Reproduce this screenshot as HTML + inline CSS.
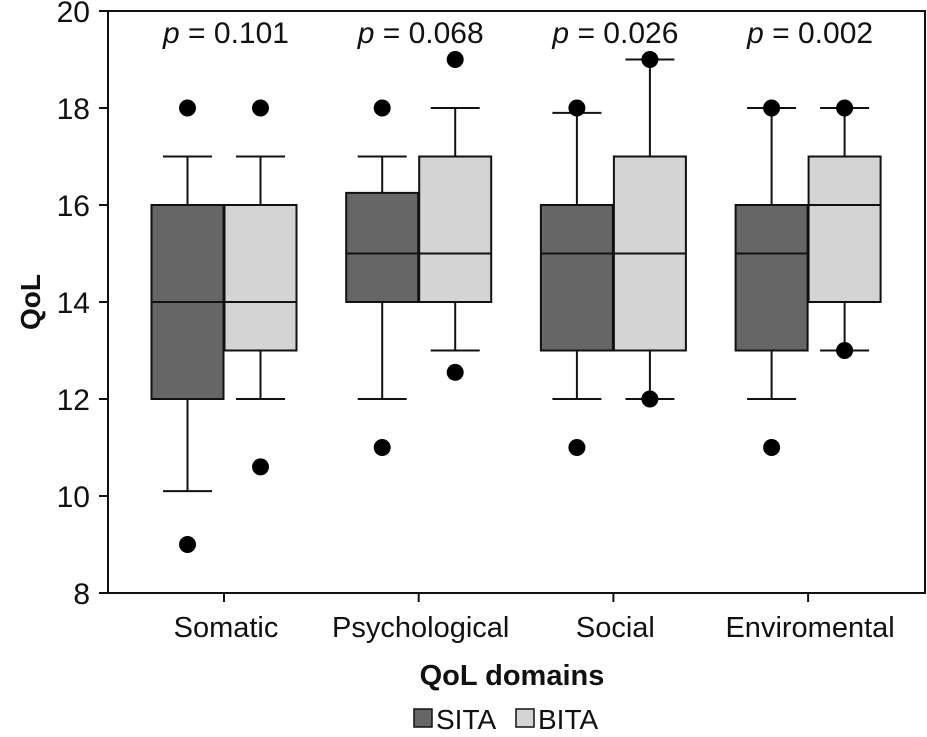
<!DOCTYPE html>
<html><head><meta charset="utf-8"><style>
body{margin:0;background:#fff}
svg text{font-family:"Liberation Sans","DejaVu Sans",sans-serif;fill:#111}
</style></head><body>
<svg id="chart" width="927" height="732" viewBox="0 0 927 732" xmlns="http://www.w3.org/2000/svg"></svg>
<script>
const categories=["Somatic","Psychological","Social","Enviromental"];
const pvalues=["0.101","0.068","0.026","0.002"];
const sitaStats=[[10.1,12,14,16,17],[12,14,15,16.25,17],[12,13,15,16,17.9],[12,13,15,16,18]];
const bitaStats=[[12,13,14,16,17],[13,14,15,17,18],[12,13,15,17,19],[13,14,16,17,18]];
const sitaOutliers=[[18,9],[18,11],[18,11],[18,11]];
const bitaOutliers=[[18,10.6],[19,12.55],[19,12],[18,13]];
const yTicks=[8,10,12,14,16,18,20];

const svg=document.getElementById('chart');
const NS="http://www.w3.org/2000/svg";
const L=108,R=925,T=11,B=593;
const y=v=>B-(v-8)/12*(B-T);
const cx=i=>224+i*194.7;
function mk(tag,attrs,parent){const e=document.createElementNS(NS,tag);for(const k in attrs)e.setAttribute(k,attrs[k]);(parent||svg).appendChild(e);return e;}

const frame=mk('rect',{x:L,y:T,width:R-L,height:B-T,fill:'none',stroke:'#111','stroke-width':2});



yTicks.forEach(v=>{
  const t=mk('line',{x1:99,x2:L,y1:y(v),y2:y(v),stroke:'#111','stroke-width':2});
  
  
  const lb=mk('text',{x:90,y:y(v)+11,'text-anchor':'end','font-size':30});
  lb.textContent=v;
  
  
});

const yt=mk('text',{x:0,y:0,'text-anchor':'middle','font-size':28,'font-weight':'bold',transform:'translate(40,302) rotate(-90)'});
yt.textContent='QoL';



function box(center,s,outs,fill,name){
  const g=mk('g',{});
  
  
  const w=72,h=49;
  mk('line',{x1:center,x2:center,y1:y(s[3]),y2:y(s[4]),stroke:'#111','stroke-width':2},g);
  mk('line',{x1:center,x2:center,y1:y(s[1]),y2:y(s[0]),stroke:'#111','stroke-width':2},g);
  mk('line',{x1:center-h/2,x2:center+h/2,y1:y(s[4]),y2:y(s[4]),stroke:'#111','stroke-width':2},g);
  mk('line',{x1:center-h/2,x2:center+h/2,y1:y(s[0]),y2:y(s[0]),stroke:'#111','stroke-width':2},g);
  mk('rect',{x:center-w/2,y:y(s[3]),width:w,height:y(s[1])-y(s[3]),fill:fill,stroke:'#111','stroke-width':2},g);
  mk('line',{x1:center-w/2,x2:center+w/2,y1:y(s[2]),y2:y(s[2]),stroke:'#111','stroke-width':2},g);
  outs.forEach(o=>{
    const c=mk('circle',{cx:center,cy:y(o),r:8.5,fill:'#000'},g);
    
    
  });
}

categories.forEach((c,i)=>{
  box(cx(i)-36.5,sitaStats[i],sitaOutliers[i],'#666','sita-box-'+i);
  box(cx(i)+36.5,bitaStats[i],bitaOutliers[i],'#d4d4d4','bita-box-'+i);
  const t=mk('line',{x1:cx(i),x2:cx(i),y1:B,y2:B+9,stroke:'#111','stroke-width':2});
  
  
  const lb=mk('text',{x:cx(i)+2,y:637,'text-anchor':'middle','font-size':29});
  lb.textContent=c;
  
  
  const p=mk('text',{x:cx(i)+2,y:43,'text-anchor':'middle','font-size':30});
  p.innerHTML='<tspan font-style="italic">p</tspan> = '+pvalues[i];
  
  
});

const xt=mk('text',{x:512,y:685,'text-anchor':'middle','font-size':29,'font-weight':'bold'});
xt.textContent='QoL domains';



[['SITA','#666',414],['BITA','#d4d4d4',516]].forEach(([n,f,x])=>{
  const g=mk('g',{});
  
  
  mk('rect',{x:x,y:709,width:18,height:18,fill:f,stroke:'#111','stroke-width':1.5},g);
  const t=mk('text',{x:x+22,y:729,'font-size':28},g);
  t.textContent=n;
});
</script>
</body></html>
